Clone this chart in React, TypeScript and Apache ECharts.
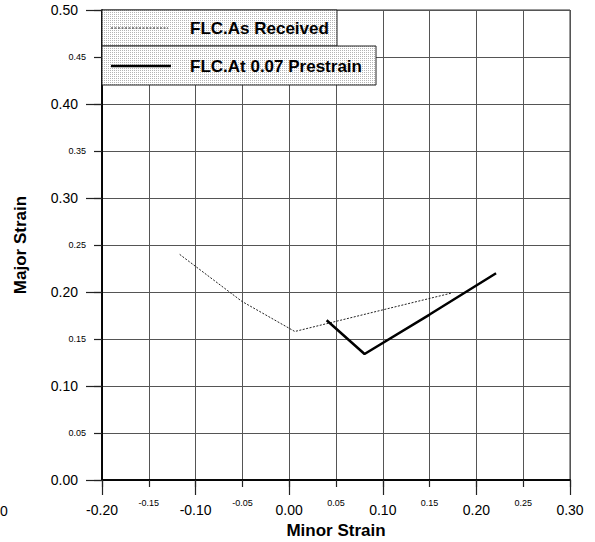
import React, { useEffect, useRef } from "react";
import * as echarts from "echarts";

const minorAsReceived = [-0.117, -0.0505, 0.006, 0.1, 0.174];
const majorAsReceived = [0.24, 0.19, 0.158, 0.181, 0.199];
const minorPrestrain = [0.04, 0.0805, 0.15, 0.221];
const majorPrestrain = [0.17, 0.134, 0.176, 0.22];
const seriesNames = ["FLC.As Received", "FLC.At 0.07 Prestrain"];
const xTitle = "Minor Strain";
const yTitle = "Major Strain";

const FONT = "'Liberation Sans', Arial, sans-serif";

const fmt = (v: number) => (Math.abs(v) < 1e-9 ? "0.00" : v.toFixed(2));
const isMajor = (v: number) => Math.round(Math.round(v * 100)) % 10 === 0;

export default function App() {
  const ref = useRef<HTMLDivElement>(null);
  useEffect(() => {
    if (!ref.current) return;
    const chart = echarts.init(ref.current, undefined, { renderer: "svg" });

    let patternFill: any = "#ebebeb";
    try {
      const c = document.createElement("canvas");
      c.width = 2;
      c.height = 2;
      const ctx = c.getContext("2d");
      if (ctx) {
        ctx.fillStyle = "#ffffff";
        ctx.fillRect(0, 0, 2, 2);
        ctx.fillStyle = "#b4b4b4";
        ctx.fillRect(0, 0, 1, 1);
        patternFill = { type: "pattern", image: c.toDataURL(), repeat: "repeat" };
      }
    } catch (e) {}

    const left = 102, right = 570, top = 10, bottom = 480;
    const axisLine = { show: true, onZero: false, lineStyle: { color: "#000", width: 1.5 } };

    chart.setOption({
      animation: false,
      backgroundColor: "#fff",
      textStyle: { fontFamily: FONT },
      grid: {
        left: left,
        right: 595 - right,
        top: top,
        bottom: 542 - bottom,
        show: true,
        borderColor: "#333",
        borderWidth: 1,
        containLabel: false,
        outerBoundsMode: "none",
      },
      xAxis: [
        {
          type: "value",
          min: -0.2,
          max: 0.3,
          interval: 0.1,
          position: "bottom",
          name: xTitle,
          nameLocation: "middle",
          nameGap: 41,
          nameTextStyle: { fontSize: 17, fontWeight: "bold", color: "#000", fontFamily: FONT },
          axisLine: axisLine,
          axisTick: { show: true, inside: false, length: 15, lineStyle: { color: "#222", width: 1.2 } },
          axisLabel: { formatter: (v: number) => fmt(v), fontSize: 14, margin: 23, color: "#000", fontFamily: FONT },
          splitLine: { show: false },
        },
        {
          type: "value",
          min: -0.2,
          max: 0.3,
          interval: 0.05,
          position: "bottom",
          offset: 0,
          axisLine: axisLine,
          axisTick: { show: true, inside: false, length: 7, lineStyle: { color: "#222", width: 1.2 } },
          axisLabel: {
            formatter: (v: number) => (isMajor(v) ? "" : fmt(v)),
            fontSize: 9,
            margin: 18,
            color: "#000",
            fontFamily: FONT,
          },
          splitLine: { show: true, lineStyle: { color: "#555", width: 1 } },
        },
      ],
      yAxis: [
        {
          type: "value",
          min: 0,
          max: 0.5,
          interval: 0.1,
          position: "left",
          name: yTitle,
          nameLocation: "middle",
          nameGap: 73,
          nameTextStyle: { fontSize: 17, fontWeight: "bold", color: "#000", fontFamily: FONT },
          axisLine: axisLine,
          axisTick: { show: true, inside: false, length: 16, lineStyle: { color: "#222", width: 1.2 } },
          axisLabel: { formatter: (v: number) => fmt(v), fontSize: 14, margin: 24, color: "#000", fontFamily: FONT },
          splitLine: { show: false },
        },
        {
          type: "value",
          min: 0,
          max: 0.5,
          interval: 0.05,
          position: "left",
          offset: 0,
          axisLine: axisLine,
          axisTick: { show: true, inside: false, length: 8, lineStyle: { color: "#222", width: 1.2 } },
          axisLabel: {
            formatter: (v: number) => (isMajor(v) ? "" : fmt(v)),
            fontSize: 9,
            margin: 16,
            color: "#000",
            fontFamily: FONT,
          },
          splitLine: { show: true, lineStyle: { color: "#555", width: 1 } },
        },
      ],
      series: [
        {
          name: seriesNames[0],
          type: "line",
          xAxisIndex: 0,
          yAxisIndex: 0,
          data: minorAsReceived.map((x, i) => [x, majorAsReceived[i]]),
          showSymbol: false,
          symbol: "none",
          lineStyle: { color: "#222", width: 1, type: [2, 1.5] },
          z: 5,
        },
        {
          name: seriesNames[1],
          type: "line",
          xAxisIndex: 0,
          yAxisIndex: 0,
          data: minorPrestrain.map((x, i) => [x, majorPrestrain[i]]),
          showSymbol: false,
          symbol: "none",
          lineStyle: { color: "#000", width: 2.5 },
          z: 6,
        },
      ],
      graphic: [
        {
          type: "text",
          left: 0,
          top: 504,
          style: { text: "0", fontSize: 14, fill: "#000", fontFamily: FONT },
        },
        {
          type: "rect",
          z: 100,
          shape: { x: 102, y: 10, width: 235, height: 36 },
          style: { fill: patternFill, stroke: "#222", lineWidth: 1 },
        },
        {
          type: "line",
          z: 101,
          shape: { x1: 111, y1: 28, x2: 168, y2: 28 },
          style: { stroke: "#222", lineWidth: 1, lineDash: [2, 1.5] },
        },
        {
          type: "text",
          z: 101,
          x: 190,
          y: 28,
          style: {
            text: seriesNames[0],
            fontSize: 17,
            fontWeight: "bold",
            fill: "#000",
            fontFamily: FONT,
            verticalAlign: "middle",
          },
        },
        {
          type: "rect",
          z: 102,
          shape: { x: 102, y: 46, width: 274, height: 39 },
          style: { fill: patternFill, stroke: "#222", lineWidth: 1 },
        },
        {
          type: "line",
          z: 103,
          shape: { x1: 111, y1: 66, x2: 171, y2: 66 },
          style: { stroke: "#000", lineWidth: 2.5 },
        },
        {
          type: "text",
          z: 103,
          x: 190,
          y: 66,
          style: {
            text: seriesNames[1],
            fontSize: 17,
            fontWeight: "bold",
            fill: "#000",
            fontFamily: FONT,
            verticalAlign: "middle",
          },
        },
      ],
    });
    return () => chart.dispose();
  }, []);
  return <div ref={ref} style={{ width: 595, height: 542, position: "absolute", left: 0, top: 0 }} />;
}
